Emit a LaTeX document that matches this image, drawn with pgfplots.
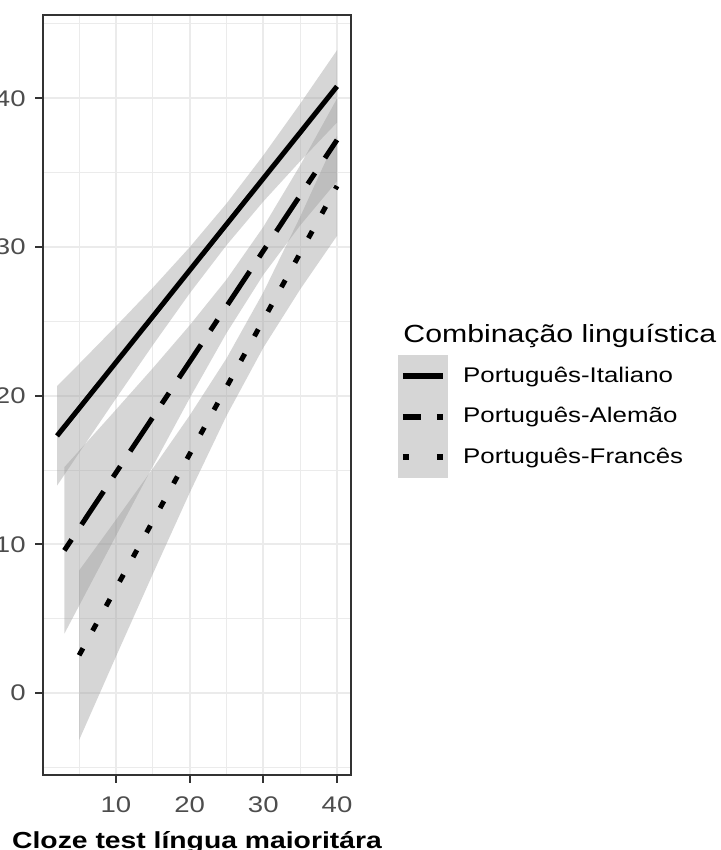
\documentclass[border=0pt]{standalone}
\usepackage{fontspec}
\setmainfont{Liberation Sans}[FakeStretch=1.22]
\usepackage{pgfplots}
\usepgfplotslibrary{fillbetween}
\pgfplotsset{compat=1.18}

\definecolor{grey20}{HTML}{333333}
\definecolor{grey30}{HTML}{4D4D4D}
\definecolor{grey92}{HTML}{EBEBEB}
\definecolor{ribbon}{HTML}{999999}
\definecolor{keyfill}{HTML}{D6D6D6}

% fitted line and confidence band per group
\pgfplotstableread{
x  y     lo    hi
2  17.30 13.95 20.65
5  19.15 16.16 22.14
10 22.24 19.81 24.67
15 25.33 23.40 27.26
20 28.43 26.88 29.98
25 31.52 30.12 32.92
30 34.61 33.06 36.16
35 37.70 35.77 39.63
40 40.80 38.37 43.23
}\ita
\pgfplotstableread{
x  y     lo    hi
3  9.60  4.00  15.20
5  11.09 5.88  16.30
10 14.82 10.58 19.06
15 18.55 15.25 21.85
20 22.28 19.83 24.73
25 26.01 24.21 27.81
30 29.74 28.13 31.35
35 33.47 31.45 35.49
40 37.20 34.42 39.98
}\ale
\pgfplotstableread{
x  y     lo    hi
5  2.55  -3.15 8.25
10 7.06  2.46  11.66
15 11.56 8.01  15.11
20 16.07 13.47 18.67
25 20.58 18.65 22.51
30 25.09 23.23 26.95
35 29.59 27.15 32.03
40 34.10 30.75 37.45
}\fra

\begin{document}
\begin{tikzpicture}
\begin{axis}[
  scale only axis, width=154pt, height=380pt,
  xmin=0.1, xmax=41.9, ymin=-5.5, ymax=45.6,
  xtick={10,20,30,40}, ytick={0,10,20,30,40},
  minor xtick={5,15,25,35}, minor ytick={-5,5,15,25,35,45},
  grid=both,
  major grid style={grey92, line width=1pt},
  minor grid style={grey92, line width=0.5pt},
  axis line style={grey20, line width=1pt},
  tick style={grey20, line width=1pt},
  tick align=outside, major tick length=4pt, minor tick length=0pt,
  tick pos=left,
  /pgf/number format/assume math mode=true,
  ticklabel style={grey30, font=\fontsize{11.3}{13}\selectfont, inner sep=0pt},
  xticklabel style={anchor=north, yshift=-6.5pt},
  yticklabel style={anchor=east, xshift=-4.5pt},
  xlabel={Cloze test língua maioritára},
  xlabel style={at={(axis description cs:0.5,0)}, anchor=base, yshift=-36.5pt,
    inner sep=0pt, font=\fontsize{11.6}{14}\selectfont\bfseries},
  legend style={at={(axis description cs:1.1526,0.5526)}, anchor=north west,
    draw=none, fill=none, inner sep=0pt, row sep=0pt, column sep=7.5pt,
    nodes={inner sep=0pt, font=\fontsize{10.6}{13}\selectfont}},
  legend cell align=left,
]
% bands
\addplot[draw=none, name path=ih, forget plot] table[x=x, y=hi] {\ita};
\addplot[draw=none, name path=il, forget plot] table[x=x, y=lo] {\ita};
\addplot[fill=ribbon, fill opacity=0.4, draw=none, forget plot] fill between[of=ih and il];
\addplot[draw=none, name path=ah, forget plot] table[x=x, y=hi] {\ale};
\addplot[draw=none, name path=al, forget plot] table[x=x, y=lo] {\ale};
\addplot[fill=ribbon, fill opacity=0.4, draw=none, forget plot] fill between[of=ah and al];
\addplot[draw=none, name path=fh, forget plot] table[x=x, y=hi] {\fra};
\addplot[draw=none, name path=fl, forget plot] table[x=x, y=lo] {\fra};
\addplot[fill=ribbon, fill opacity=0.4, draw=none, forget plot] fill between[of=fh and fl];
% lines
\addplot[black, line width=2.5pt, forget plot] table[x=x, y=y] {\ita};
\addplot[black, line width=2.5pt, dash pattern=on 6.5pt off 9pt on 20pt off 8.5pt, forget plot] table[x=x, y=y] {\ale};
\addplot[black, line width=2.5pt, dash pattern=on 4pt off 10pt, forget plot] table[x=x, y=y] {\fra};
% legend keys
\addlegendimage{legend image code/.code={
  \fill[keyfill] (0pt,-10pt) rectangle (24.5pt,10pt);
  \draw[black, line width=3pt] (2pt,0pt) -- (22pt,0pt);}}
\addlegendentry{Português-Italiano}
\addlegendimage{legend image code/.code={
  \fill[keyfill] (0pt,-10pt) rectangle (24.5pt,10pt);
  \draw[black, line width=3pt] (2pt,0pt) -- (11pt,0pt);
  \draw[black, line width=3pt] (19pt,0pt) -- (22pt,0pt);}}
\addlegendentry{Português-Alemão}
\addlegendimage{legend image code/.code={
  \fill[keyfill] (0pt,-10pt) rectangle (24.5pt,10pt);
  \draw[black, line width=3pt] (2pt,0pt) -- (5pt,0pt);
  \draw[black, line width=3pt] (19pt,0pt) -- (22pt,0pt);}}
\addlegendentry{Português-Francês}
\end{axis}
\node[anchor=base west, inner sep=0pt, font=\fontsize{12.4}{15}\selectfont]
  at (180pt,216pt) {Combinação linguística};
\pgfresetboundingbox
\useasboundingbox (-21.5pt,-37.5pt) rectangle (338.5pt,387.5pt);
\end{tikzpicture}
\end{document}
